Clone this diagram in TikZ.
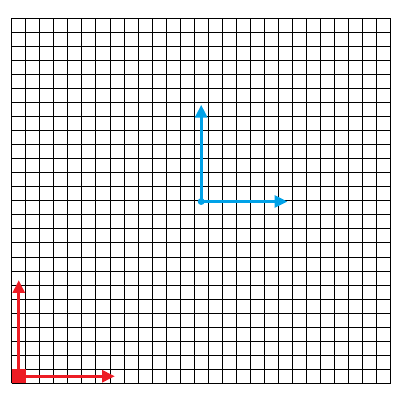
\documentclass[tikz,border=0pt]{standalone}
\usepackage{tikz}
\usetikzlibrary{arrows.meta}

\definecolor{axisred}{RGB}{237,28,36}
\definecolor{axisblue}{RGB}{0,162,232}

\begin{document}
\begin{tikzpicture}[x=0.5cm,y=0.5cm,
    axis/.style={line width=3pt,-{Triangle[length=13pt,width=12pt]}}]

\useasboundingbox (-0.836,-1.62) rectangle (27.95,27.31);

% Grid
\draw[line width=0.9pt,step=1] (0,0) grid (27,26);

% Red frame at the corner
\fill[axisred] (0,0) rectangle (1,1);
\coordinate (redorigin) at (0.5,0.5);
\coordinate (redx) at (7.35,0.5);
\coordinate (redy) at (0.5,7.35);
\draw[axis,axisred] (redorigin) -- (redx);
\draw[axis,axisred] (redorigin) -- (redy);

% Blue frame in the middle
\coordinate (blueorigin) at (13.5,12.95);
\coordinate (bluex) at (19.65,12.95);
\coordinate (bluey) at (13.5,19.85);
\draw[axis,axisblue] (blueorigin) -- (bluex);
\draw[axis,axisblue] (blueorigin) -- (bluey);
\fill[axisblue] (blueorigin) circle (3.5pt);

\end{tikzpicture}
\end{document}
